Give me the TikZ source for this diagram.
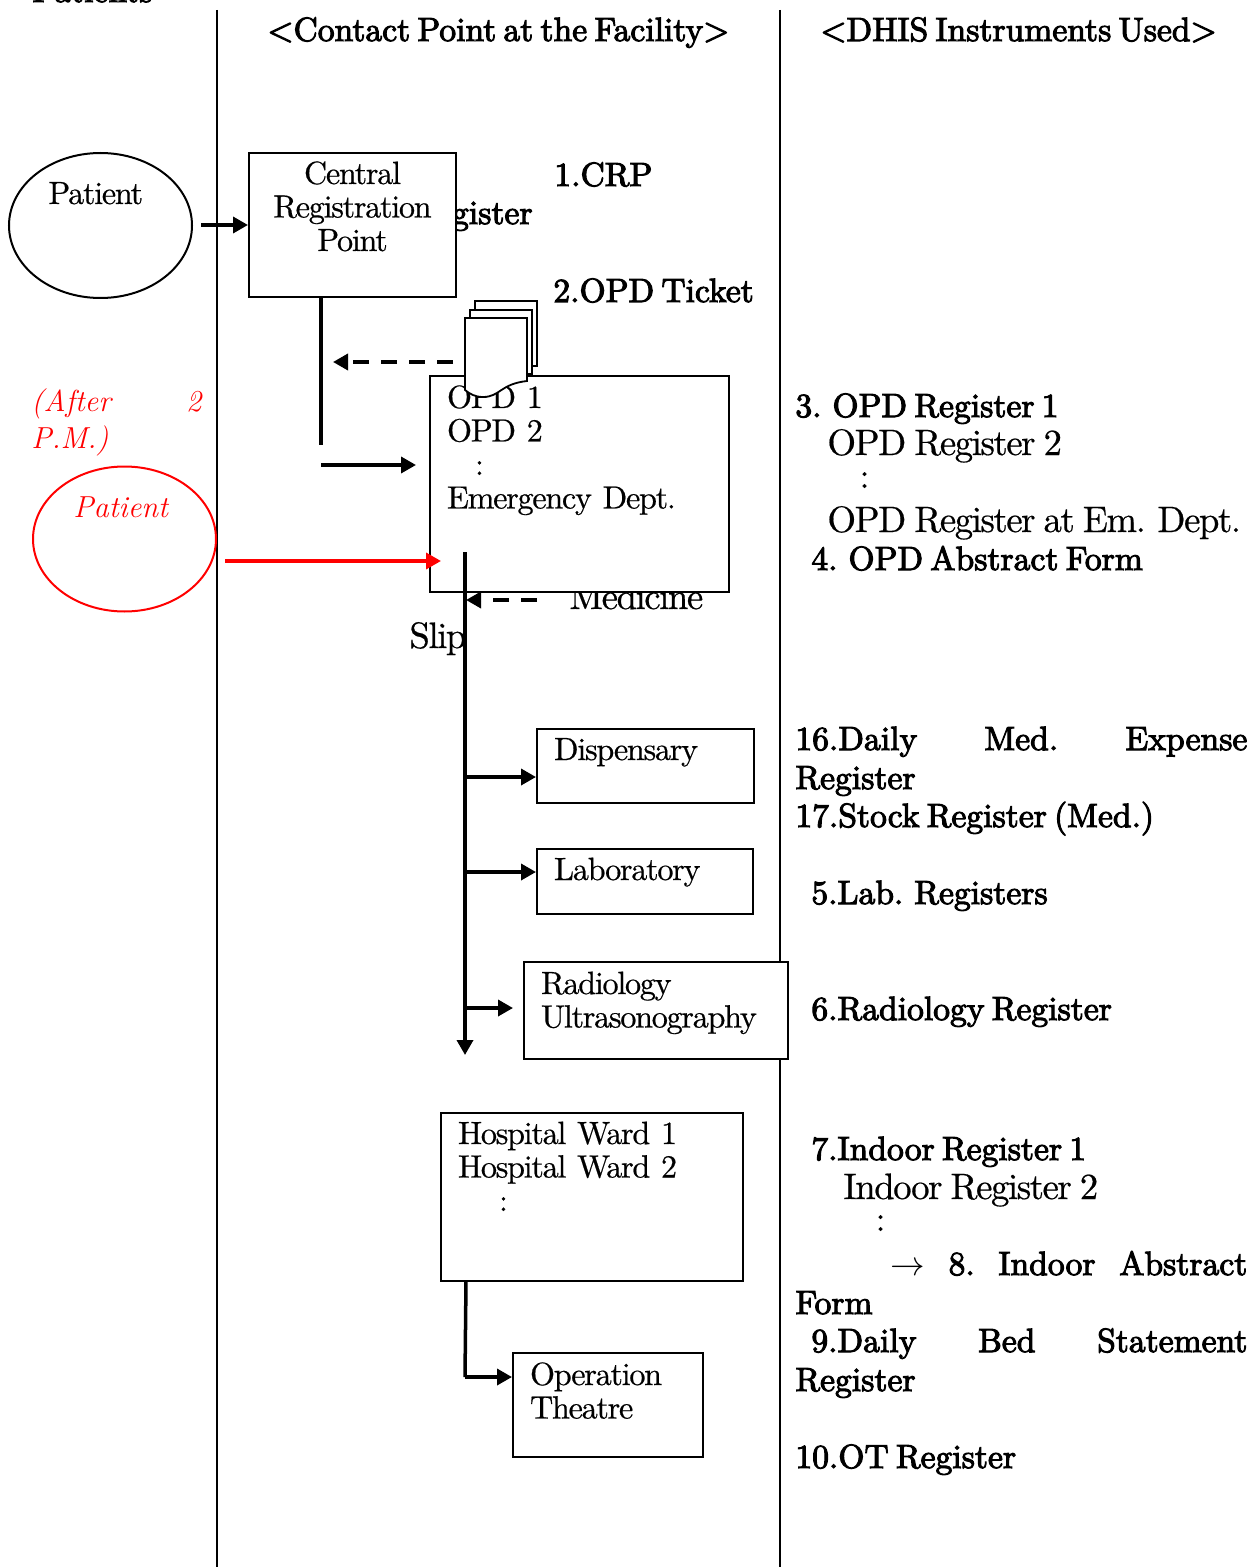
\documentclass[tikz,border=0pt]{standalone}
\usepackage{tikz}
\usetikzlibrary{arrows.meta,positioning,shapes.geometric}
\font\heavyfont="[lmroman10-regular]:mapping=tex-text;embolden=3" at 16.8pt
\fontdimen2\heavyfont=3.6pt
\font\plainbase="[lmroman10-regular]:mapping=tex-text;embolden=0.5;letterspace=-4" at 16.1pt
\fontdimen2\plainbase=3.2pt
\font\lgbase="[lmroman10-regular]:mapping=tex-text;embolden=0.5;letterspace=-4" at 18.4pt
\fontdimen2\lgbase=4pt
\newcommand{\plainfont}{\plainbase\baselineskip=16.75pt }
\newcommand{\redfont}{\fontsize{15.2}{18.5}\selectfont\itshape}
\begin{document}
\begin{tikzpicture}[
  x=0.5pt, y=-0.5pt,
  box/.style={draw, fill=white, line width=1pt, rectangle, anchor=north west, inner xsep=8.5pt, inner ysep=0pt, align=left, font=\plainfont},
  hd/.style={anchor=base west, inner sep=0pt, font=\heavyfont},
  hdfill/.style={hd, text width=226pt, align=left},
  lg/.style={anchor=base west, inner sep=0pt, font=\lgbase},
  sm/.style={anchor=base west, inner sep=0pt, font=\plainfont},
  circ/.style={draw, ellipse, line width=1pt, minimum width=91.5pt, minimum height=72.5pt, inner sep=0pt},
  rule/.style={line width=1pt},
  arr/.style={-{Triangle[length=7.5pt,width=8pt]}, line width=1.75pt},
  dsh/.style={arr, dash pattern=on 8pt off 6pt},
  line/.style={line width=1.75pt},
  paper/.style={draw, fill=white, line width=0.9pt}
]
\useasboundingbox (0,0) rectangle (1256,1567);
% text that lies behind the boxes
\node[hd] (pts) at (32,2) {Patients};
\node[hd, anchor=base east] (regword) at (533,224) {Register};
\node[lg] (medword) at (569,609) {Medicine};
\node[lg] (slipword) at (409,648) {Slip};
% column rules
\coordinate (ruleAtop) at (217,10);
\coordinate (ruleAend) at (217,1567);
\coordinate (ruleBtop) at (780,10);
\coordinate (ruleBend) at (780,1567);
\draw[rule] (ruleAtop) -- (ruleAend);
\draw[rule] (ruleBtop) -- (ruleBend);
% headers
\node[hd] (headA) at (267,41) {<Contact Point at the Facility>};
\node[hd] (headB) at (820,41) {<DHIS Instruments Used>};
% patients
\node[circ] (pat) at (100.5,225.5) {};
\node[sm] (patword) at (48,204) {Patient};
\node[circ, draw=red] (patred) at (124.5,539) {};
\node[sm, text=red, font=\redfont] (patredword) at (73,517) {Patient};
\node[sm, text=red, font=\redfont, text width=85pt, align=left] (after) at (31,411) {(After\hfill 2\\P.M.)};
% contact points
\node[box, inner xsep=0pt, text width=103.5pt, align=center, text height=15.5pt, text depth=56.5pt] (crp) at (248,152) {Central\\Registration\\Point};
\node[box, text width=132.5pt, text height=16pt, text depth=92pt] (opd) at (429,375) {OPD 1\\OPD 2\\\hspace*{14pt}:\\Emergency Dept.};
\node[box, text width=91.5pt, text height=15.5pt, text depth=21.5pt] (disp) at (536,728) {Dispensary};
\node[box, text width=91pt, text height=15.5pt, text depth=17pt] (lab) at (536,848) {Laboratory};
\node[box, text width=115pt, text height=16pt, text depth=32.5pt] (rad) at (523,961) {Radiology\\Ultrasonography};
\node[box, text width=134pt, text height=15.5pt, text depth=68.5pt] (ward) at (440,1112) {Hospital Ward 1\\Hospital Ward 2\\\hspace*{20.5pt}:};
\node[box, text width=78pt, text height=16pt, text depth=36pt] (ot) at (512,1352) {Operation\\Theatre};
% stack of tickets
\draw[paper] (475,301) rectangle (537,366);
\draw[paper] (470,310) rectangle (532,374);
\draw[paper] (465,318) -- (527,318) -- (527,381) .. controls (500,384) and (500,397) .. (483,397) .. controls (475,397) and (470,394) .. (465,390) -- cycle;
% connectors
\coordinate (patfrom) at (201,225);
\draw[arr] (patfrom) -- (patfrom -| crp.west);
\coordinate (crpfrom) at (321,297);
\coordinate (crpto) at (321,445);
\draw[line] (crpfrom) -- (crpto);
\coordinate (opdfrom) at (321,465);
\coordinate (opdto) at (416,465);
\draw[arr] (opdfrom) -- (opdto);
\coordinate (tickfrom) at (453,362);
\coordinate (tickto) at (333,362);
\draw[dsh] (tickfrom) -- (tickto);
\coordinate (redfrom) at (225,561);
\coordinate (redto) at (441,561);
\draw[arr, red] (redfrom) -- (redto);
\coordinate (trunktop) at (465,552);
\coordinate (trunkend) at (465,1055);
\draw[arr] (trunktop) -- (trunkend);
\coordinate (medfrom) at (537,600);
\coordinate (medto) at (466,600);
\draw[dsh] (medfrom) -- (medto);
\coordinate (disptap) at (465,777);
\draw[arr] (disptap) -- (disptap -| disp.west);
\coordinate (labtap) at (465,872);
\draw[arr] (labtap) -- (labtap -| lab.west);
\coordinate (radtap) at (465,1008);
\coordinate (radto) at (513,1008);
\draw[arr] (radtap) -- (radto);
\coordinate (wardfrom) at (466,1281);
\coordinate (otin) at (465,1377);
\draw[line] (wardfrom) -- (otin);
\draw[arr] (otin) -- (otin -| ot.west);
% instruments
\node[hd] (crpno) at (554,186) {1.CRP};
\node[hd] (tickno) at (553,302) {2.OPD Ticket};
\node[hd] (opdA) at (795,417) {3. OPD Register 1};
\node[lg] (opdB) at (827,455) {OPD Register 2};
\node[lg] (opdC) at (859,488) {:};
\node[lg] (opdD) at (827,532) {OPD Register at Em. Dept.};
\node[hd] (abst) at (811,570) {4. OPD Abstract Form};
\node[hdfill] (dailyA) at (795,750) {16.Daily\hfill Med.\hfill Expense};
\node[hd] (dailyB) at (795,789) {Register};
\node[hd] (stock) at (795,827) {17.Stock Register (Med.)};
\node[hd] (labno) at (811,904) {5.Lab. Registers};
\node[hd] (radno) at (811,1020) {6.Radiology Register};
\node[hd] (indA) at (811,1160) {7.Indoor Register 1};
\node[lg] (indB) at (843,1199) {Indoor Register 2};
\node[lg] (indC) at (875,1231) {:};
\node[hd, text width=178.5pt, align=left] (indabs) at (890,1275) {{\fontsize{16}{19}\selectfont$\rightarrow$}\hfill 8.\hfill Indoor\hfill Abstract};
\node[hd] (indform) at (795,1314) {Form};
\node[hd, text width=218pt, align=left] (bedA) at (811,1352) {9.Daily\hfill Bed\hfill Statement};
\node[hd] (bedB) at (795,1391) {Register};
\node[hd] (otno) at (795,1468) {10.OT Register};
\end{tikzpicture}
\end{document}
